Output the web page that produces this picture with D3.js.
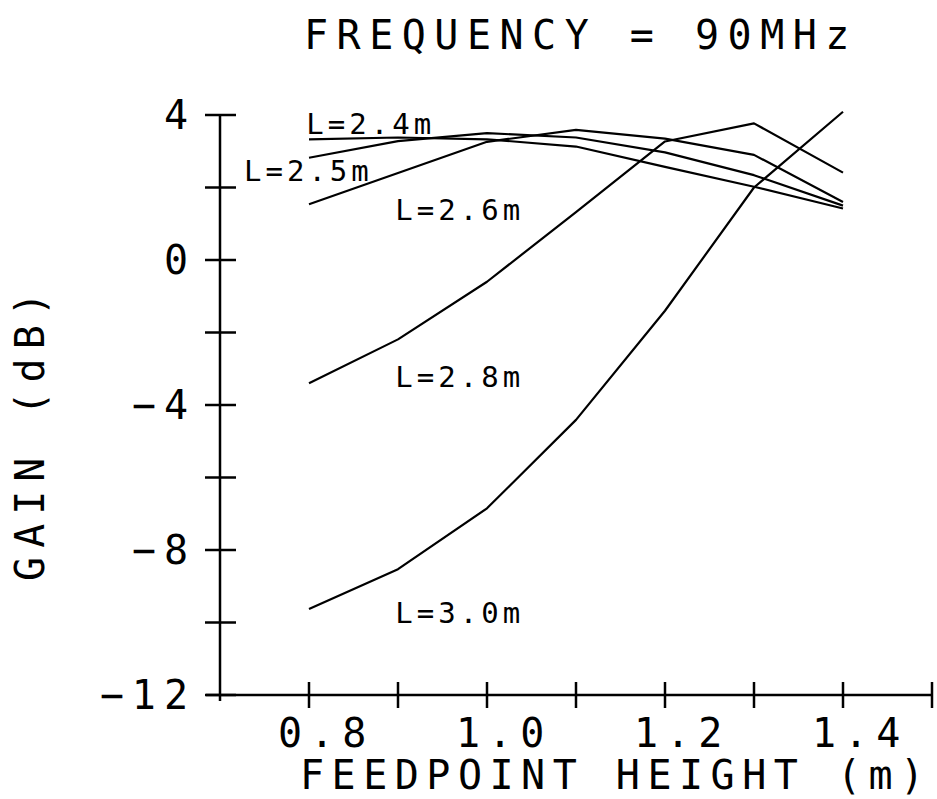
<!DOCTYPE html>
<html>
<head>
<meta charset="utf-8">
<script src="https://cdn.jsdelivr.net/npm/d3@7"></script>
<style>
  body { margin: 0; background: #fff; }
  svg text { font-family: "DejaVu Sans Mono", monospace; fill: #000; }
</style>
</head>
<body>
<div id="chart"></div>
<script>
// Feedpoint height (m)
const heights = [0.8, 0.9, 1.0, 1.1, 1.2, 1.3, 1.4];

// Gain (dB) for each element length
const gainL24 = [3.33, 3.38, 3.33, 3.13, 2.57, 2.02, 1.42];
const gainL25 = [2.82, 3.28, 3.50, 3.38, 2.97, 2.34, 1.50];
const gainL26 = [1.54, 2.40, 3.26, 3.59, 3.35, 2.90, 1.60];
const gainL28 = [-3.40, -2.19, -0.60, 1.32, 3.27, 3.77, 2.41];
const gainL30 = [-9.63, -8.53, -6.85, -4.41, -1.40, 2.00, 4.09];

const seriesNames = ["L=2.4m", "L=2.5m", "L=2.6m", "L=2.8m", "L=3.0m"];
const seriesValues = [gainL24, gainL25, gainL26, gainL28, gainL30];

// label anchor of each curve, in data units (height, gain)
const labelHeights = [0.797, 0.727, 0.897, 0.897, 0.897];
const labelGains = [3.48, 2.18, 1.10, -3.50, -10.01];

const xTickValues = [0.7, 0.8, 0.9, 1.0, 1.1, 1.2, 1.3, 1.4, 1.5];
const xTickLabels = ["0.8", "1.0", "1.2", "1.4"];
const yTickValues = [4, 2, 0, -2, -4, -6, -8, -10, -12];
const yTickLabels = ["4", "0", "\u22124", "\u22128", "\u221212"];

const width = 937, height = 799;

const svg = d3.select("#chart")
  .append("svg")
  .attr("width", width)
  .attr("height", height);

// Scales
const x = d3.scaleLinear().domain([0.7, 1.5]).range([220, 932]);
const y = d3.scaleLinear().domain([-12, 4]).range([695, 115]);

// Axes
const axes = svg.append("g")
  .attr("stroke", "#000")
  .attr("stroke-width", 2.5)
  .attr("fill", "none");

axes.append("line")
  .attr("x1", x(0.7)).attr("x2", x(0.7))
  .attr("y1", y(4)).attr("y2", y(-12) + 6);

axes.append("line")
  .attr("x1", x(0.7) - 14).attr("x2", x(1.5))
  .attr("y1", y(-12)).attr("y2", y(-12));

axes.selectAll(".ytick")
  .data(yTickValues)
  .enter()
  .append("line")
  .attr("x1", x(0.7) - 15)
  .attr("x2", x(0.7) + 16)
  .attr("y1", d => y(d))
  .attr("y2", d => y(d));

axes.selectAll(".xtick")
  .data(xTickValues.slice(1))
  .enter()
  .append("line")
  .attr("x1", d => x(d))
  .attr("x2", d => x(d))
  .attr("y1", y(-12) - 13)
  .attr("y2", y(-12) + 13);

// Tick labels
const bigFont = 40, bigSpacing = 8;

svg.selectAll(".ylabel")
  .data(yTickLabels)
  .enter()
  .append("text")
  .attr("x", 188 + bigSpacing)
  .attr("y", d => y(+d.replace("\u2212", "-")))
  .attr("dy", "0.36em")
  .attr("text-anchor", "end")
  .style("font-size", bigFont + "px")
  .style("letter-spacing", bigSpacing + "px")
  .text(d => d);

svg.selectAll(".xlabel")
  .data(xTickLabels)
  .enter()
  .append("text")
  .attr("x", d => x(+d) - 31)
  .attr("y", 747)
  .style("font-size", bigFont + "px")
  .style("letter-spacing", bigSpacing + "px")
  .text(d => d);

// Titles
svg.append("text")
  .attr("x", 304)
  .attr("y", 49)
  .style("font-size", bigFont + "px")
  .style("letter-spacing", "8.5px")
  .text("FREQUENCY = 90MHz");

svg.append("text")
  .attr("x", 300)
  .attr("y", 789)
  .style("font-size", bigFont + "px")
  .style("letter-spacing", "7.5px")
  .text("FEEDPOINT HEIGHT (m)");

svg.append("text")
  .attr("transform", "translate(44,432) rotate(-90)")
  .attr("text-anchor", "middle")
  .style("font-size", bigFont + "px")
  .style("letter-spacing", "9px")
  .text("GAIN (dB)");

// Curves
const line = d3.line()
  .x((d, i) => x(heights[i]))
  .y(d => y(d));

svg.selectAll(".curve")
  .data(seriesValues)
  .enter()
  .append("path")
  .attr("class", "curve")
  .attr("d", line)
  .attr("fill", "none")
  .attr("stroke", "#000")
  .attr("stroke-width", 2.2)
  .attr("stroke-linejoin", "round");

// Curve labels
svg.selectAll(".clabel")
  .data(seriesNames)
  .enter()
  .append("text")
  .attr("x", (d, i) => x(labelHeights[i]))
  .attr("y", (d, i) => y(labelGains[i]))
  .style("font-size", "29px")
  .style("letter-spacing", "4px")
  .text(d => d);
</script>
</body>
</html>
